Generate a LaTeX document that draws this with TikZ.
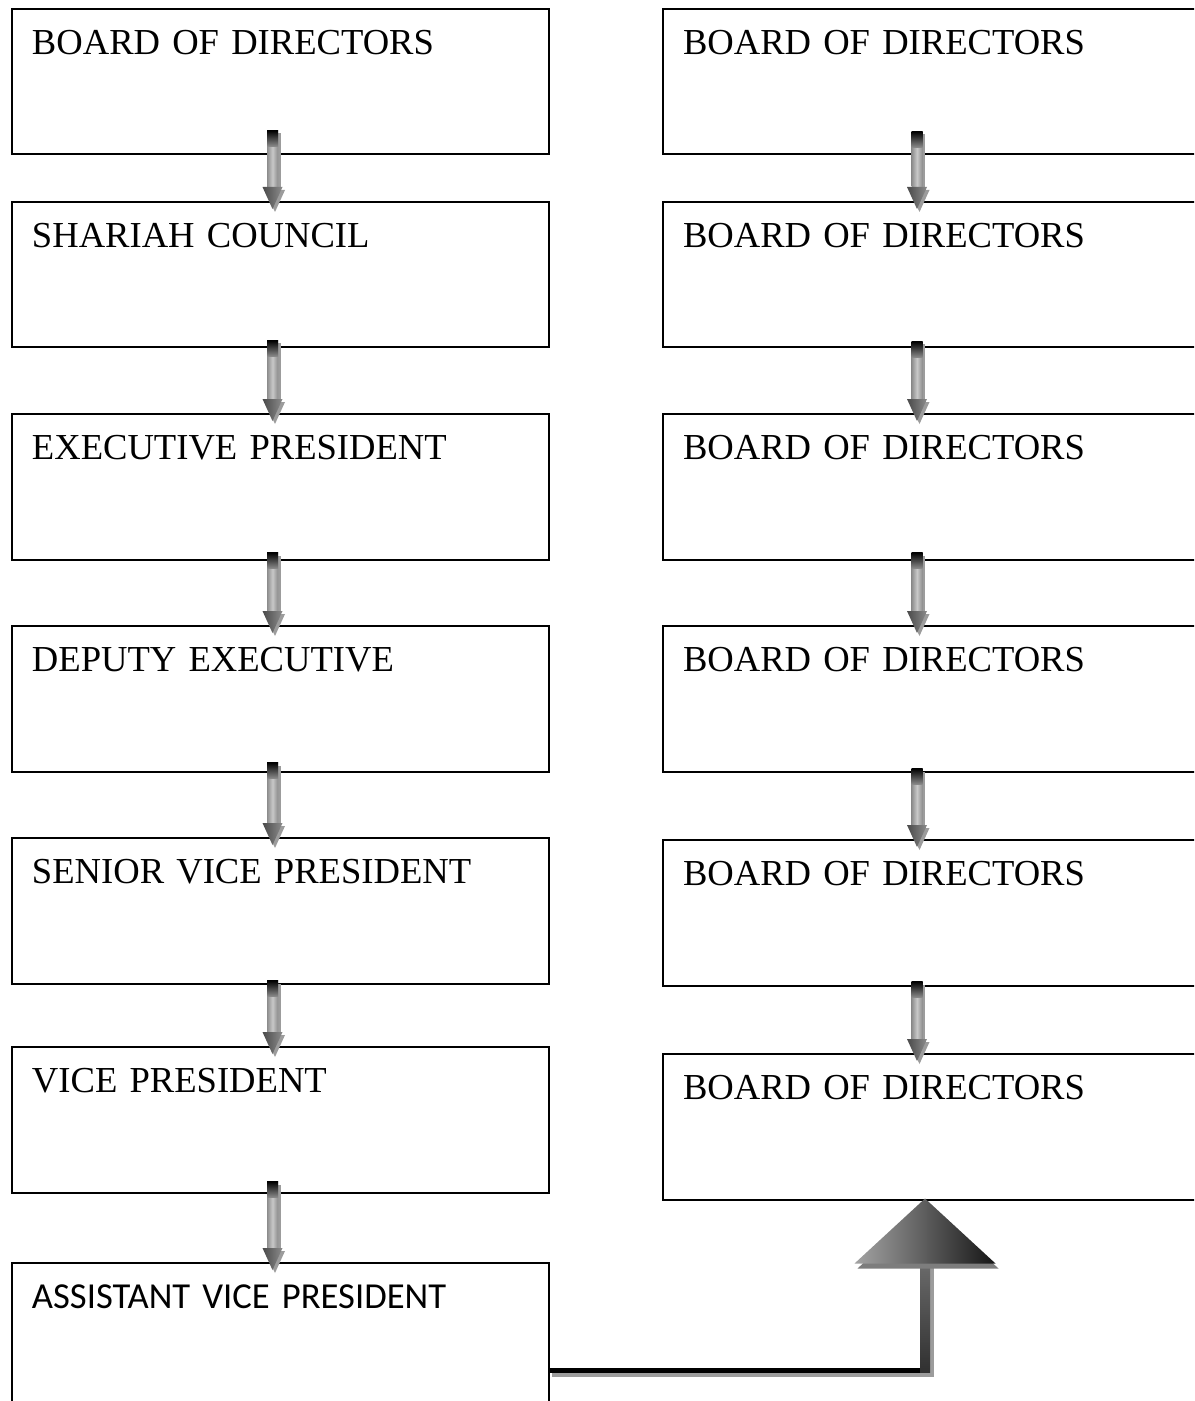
\documentclass[tikz,border=0pt]{standalone}
\usepackage{fontspec}
\setmainfont{Liberation Serif}
\newfontfamily\calibrifont{Carlito}
\usetikzlibrary{calc}
\definecolor{ink}{HTML}{000000}
\definecolor{shaftmid}{HTML}{8C8C8C}
\definecolor{shaftlight}{HTML}{C8C8C8}
\definecolor{shaftdark}{HTML}{4A4A4A}
\definecolor{dropshade}{HTML}{9C9C9C}
\definecolor{headlight}{HTML}{A4A4A4}
\definecolor{headdark}{HTML}{151515}
\definecolor{barshaft}{HTML}{6A6A6A}
\newcommand{\boxfont}{\fontsize{18.3}{22}\selectfont}
\tikzset{
  orgbox/.style={draw=ink, line width=1pt, anchor=north west, align=left,
    inner xsep=10pt, inner ysep=0pt, text height=22.75pt, text depth=50pt, font=\boxfont},
  leftbox/.style={orgbox, text width=248.5pt},
  rightbox/.style={orgbox, text width=260pt},
}
% #1 upper box, #2 lower box, #3 offset from west side, #4 rise above lower edge
\newcommand{\fatarrow}[4]{%
  \coordinate (fa-s) at ($(#1.south west)+(#3,-#4)$);
  \coordinate (fa-t) at ($(#2.north west)+(#3,8)$);
  \fill[dropshade] ($(fa-s)+(-3.5,3)$) rectangle ($(fa-t)+(8,-19)$);
  \fill[dropshade] ($(fa-t)+(-8,-19)$) -- ($(fa-t)+(12.5,-19)$) -- ($(fa-t)+(2.5,3)$) -- cycle;
  \shade[left color=shaftmid, right color=shaftmid, middle color=shaftlight]
    ($(fa-s)+(-5.5,0)$) rectangle ($(fa-t)+(5.5,-22)$);
  \shade[top color=ink, bottom color=shaftmid] ($(fa-s)+(-5.5,0)$) rectangle ($(fa-s)+(5.5,16)$);
  \shade[left color=shaftdark, right color=shaftmid] ($(fa-t)+(-10,-22)$) -- ($(fa-t)+(10,-22)$) -- (fa-t) -- cycle;}

\begin{document}
\begin{tikzpicture}[x=0.5pt, y=-0.5pt]
\useasboundingbox (0,0) rectangle (1194,1401);
\clip (0,0) rectangle (1194,1401);

% ---------- left column
\foreach \name/\top/\label in {L1/8/{BOARD OF DIRECTORS},
                               L2/201/{SHARIAH COUNCIL},
                               L3/413/{EXECUTIVE PRESIDENT},
                               L4/625/{DEPUTY EXECUTIVE},
                               L5/837/{SENIOR VICE PRESIDENT},
                               L6/1046/{VICE PRESIDENT}} {
  \node[leftbox] (\name) at (11,\top) {\label};
}
\node[leftbox, text depth=120pt, font=\boxfont\calibrifont] (L7) at (11,1262) {ASSISTANT VICE PRESIDENT};

% ---------- right column
\foreach \name/\top in {R1/8, R2/201, R3/413, R4/625, R5/839, R6/1053} {
  \node[rightbox] (\name) at (662,\top) {BOARD OF DIRECTORS};
}

% ---------- small arrows
\foreach \a/\b/\rise in {L1/L2/25, L2/L3/8, L3/L4/8, L4/L5/10, L5/L6/4, L6/L7/12} {
  \fatarrow{\a}{\b}{261.5}{\rise}
}
\foreach \a/\b/\rise in {R1/R2/24, R2/R3/7, R3/R4/8, R4/R5/4, R5/R6/5} {
  \fatarrow{\a}{\b}{255}{\rise}
}

% ---------- bent arrow
\coordinate (bs) at ($(L7.north east)+(0,108)$);
\coordinate (bt) at ($(R6.south west)+(263,-2)$);
\coordinate (bc) at (bt |- bs);
\fill[dropshade] ($(bs)+(2,3)$) rectangle ($(bc)+(9,7)$);
\fill[dropshade] ($(bc)+(5,7)$) rectangle ($(bt)+(9,68)$);
\fill[ink] ($(bs)+(0,-2.5)$) rectangle ($(bc)+(5,2.5)$);
\shade[top color=barshaft, bottom color=barshaft!45!black] ($(bt)+(-5,65)$) rectangle ($(bc)+(5,2.5)$);
\fill[dropshade!80!black] ($(bt)+(-67.5,70)$) -- ($(bt)+(73.5,70)$) -- ($(bt)+(3,5)$) -- cycle;
\shade[left color=headlight, right color=headdark] ($(bt)+(-70.5,65)$) -- ($(bt)+(70.5,65)$) -- (bt) -- cycle;

\end{tikzpicture}
\end{document}
